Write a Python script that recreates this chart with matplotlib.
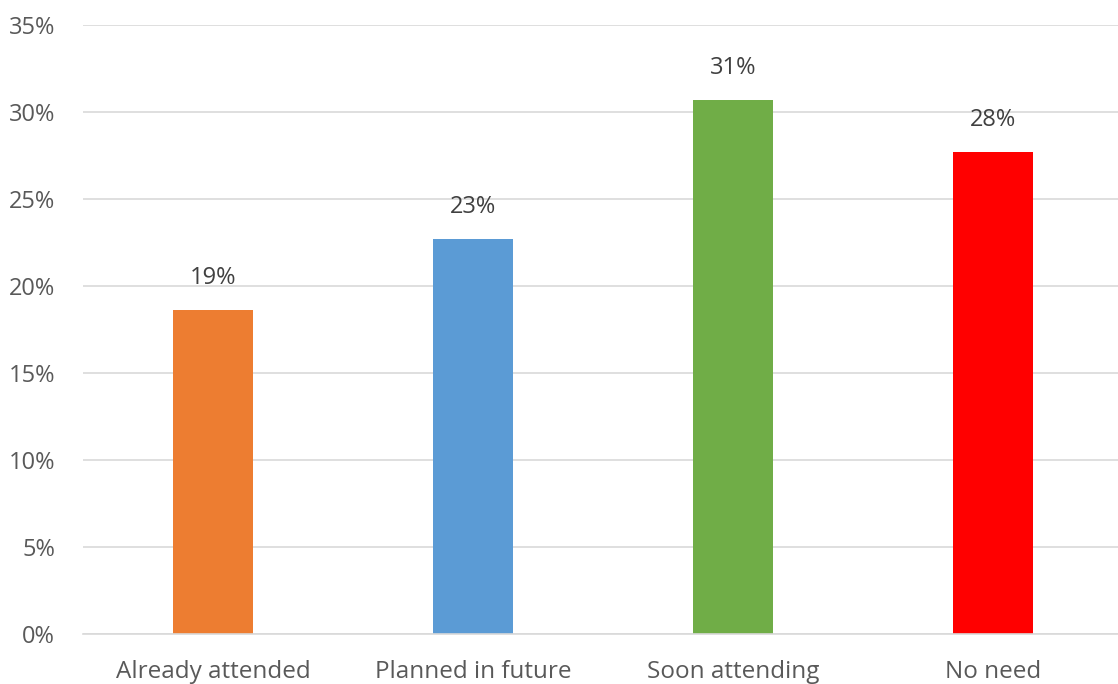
import matplotlib
matplotlib.use("Agg")
import matplotlib.pyplot as plt
from matplotlib.ticker import FuncFormatter, MultipleLocator

# data
categories = ["Already attended", "Planned in future", "Soon attending", "No need"]
values = [18.6, 22.7, 30.7, 27.7]
labels = ["19%", "23%", "31%", "28%"]
colors = ["#ED7D31", "#5B9BD5", "#70AD47", "#FF0000"]

plt.rcParams["font.family"] = ["Open Sans", "DejaVu Sans"]
text_color = "#595959"
grid_color = "#D9D9D9"

fig = plt.figure(figsize=(11.18, 6.84), dpi=100)
ax = fig.add_axes([83 / 1118, 50 / 684, 1040 / 1118, 609 / 684])

x = range(len(categories))
bars = ax.bar(x, values, width=0.31, color=colors, zorder=3)

# value labels above bars
for bar, lab in zip(bars, labels):
    ax.annotate(lab, (bar.get_x() + bar.get_width() / 2, bar.get_height()),
                xytext=(0, 23), textcoords="offset points",
                ha="center", va="center", fontsize=17, color="#404040")

ax.set_xlim(-0.5, 3.5)
ax.set_ylim(0, 35)
ax.yaxis.set_major_locator(MultipleLocator(5))
ax.yaxis.set_major_formatter(FuncFormatter(lambda v, p: f"{v:.0f}%"))
ax.set_xticks(list(x))
ax.set_xticklabels(categories)

ax.grid(axis="y", color=grid_color, linewidth=1.2, zorder=0)
for side in ["top", "right", "left"]:
    ax.spines[side].set_visible(False)
ax.spines["bottom"].set_color(grid_color)
ax.spines["bottom"].set_linewidth(1.2)
ax.spines["bottom"].set_zorder(4)

ax.tick_params(axis="both", length=0, colors=text_color)
ax.tick_params(axis="x", pad=19, labelsize=17.5)
ax.tick_params(axis="y", pad=20, labelsize=17)

fig.savefig("out.png", dpi=100)
